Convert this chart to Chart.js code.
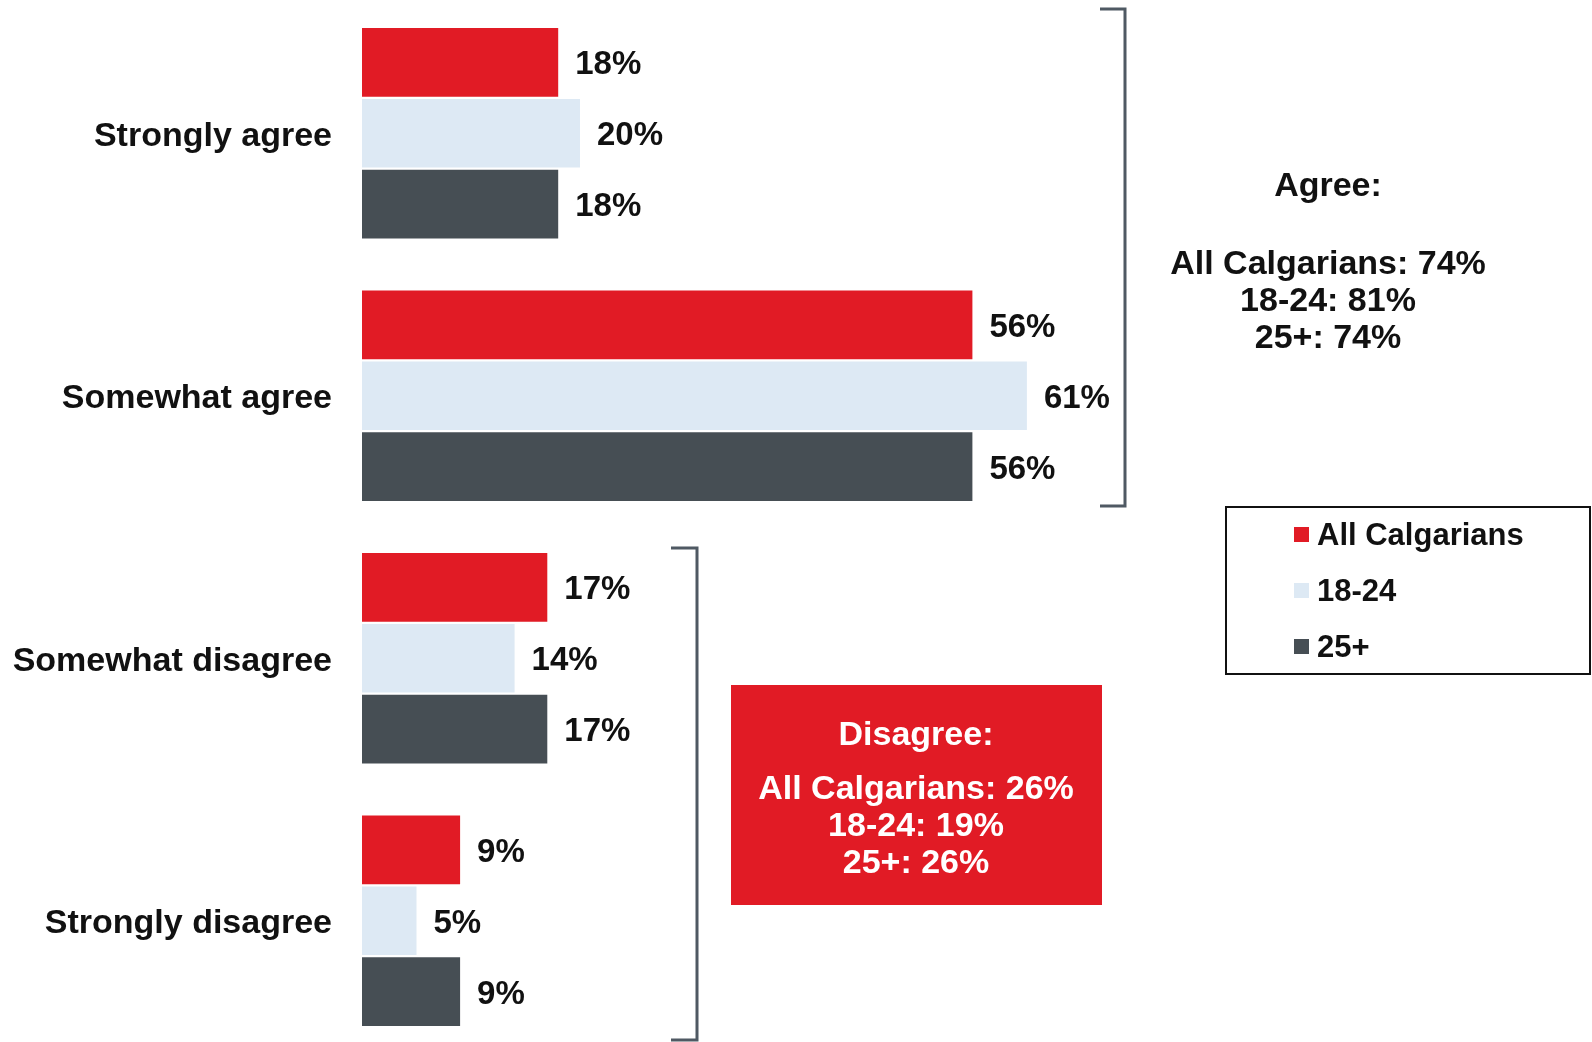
<!DOCTYPE html>
<html>
<head>
<meta charset="utf-8">
<script src="https://cdn.jsdelivr.net/npm/chart.js@4/dist/chart.umd.min.js"></script>
<style>
  html, body { margin: 0; padding: 0; background: #ffffff; overflow: hidden; }
  #wrap { position: relative; width: 1592px; height: 1052px; }
</style>
</head>
<body>
<div id="wrap"><canvas id="chart" width="1592" height="1052"></canvas></div>
<script>
// Response categories
const categories = ['Strongly agree', 'Somewhat agree', 'Somewhat disagree', 'Strongly disagree'];

// Series names
const seriesNames = ['All Calgarians', '18-24', '25+'];

// Percent of respondents per category
const allCalgarians = [18, 56, 17, 9];
const age18to24 = [20, 61, 14, 5];
const age25plus = [18, 56, 17, 9];

// Net totals: [All Calgarians, 18-24, 25+]
const agreeTotals = [74, 81, 74];
const disagreeTotals = [26, 19, 26];

const RED = '#e11b25';
const LIGHT = '#dde9f4';
const DARK = '#464e54';
const FONT = '"Liberation Sans", Arial, Helvetica, sans-serif';

// Value labels at the end of every bar
const valueLabels = {
  id: 'valueLabels',
  afterDatasetsDraw(chart) {
    const ctx = chart.ctx;
    ctx.save();
    ctx.font = 'bold 33px ' + FONT;
    ctx.fillStyle = '#111';
    ctx.textAlign = 'left';
    ctx.textBaseline = 'middle';
    chart.data.datasets.forEach((ds, di) => {
      chart.getDatasetMeta(di).data.forEach((bar, i) => {
        ctx.fillText(ds.data[i] + '%', bar.x + 17, bar.y + 3);
      });
    });
    ctx.restore();
  }
};

// Brackets, net summaries and the boxed legend
const extras = {
  id: 'extras',
  afterDraw(chart) {
    const ctx = chart.ctx;
    ctx.save();

    // brackets
    ctx.strokeStyle = '#4f5963';
    ctx.lineWidth = 3;
    ctx.lineJoin = 'miter';
    ctx.beginPath();
    ctx.moveTo(1100, 9); ctx.lineTo(1125, 9); ctx.lineTo(1125, 506); ctx.lineTo(1100, 506);
    ctx.stroke();
    ctx.beginPath();
    ctx.moveTo(671, 548); ctx.lineTo(697, 548); ctx.lineTo(697, 1040); ctx.lineTo(671, 1040);
    ctx.stroke();

    // agree summary
    ctx.font = 'bold 34px ' + FONT;
    ctx.textAlign = 'center';
    ctx.textBaseline = 'middle';
    ctx.fillStyle = '#111';
    ctx.fillText('Agree:', 1328, 187);
    ctx.fillText(seriesNames[0] + ': ' + agreeTotals[0] + '%', 1328, 265);
    ctx.fillText(seriesNames[1] + ': ' + agreeTotals[1] + '%', 1328, 302);
    ctx.fillText(seriesNames[2] + ': ' + agreeTotals[2] + '%', 1328, 339);

    // disagree summary box
    ctx.fillStyle = RED;
    ctx.fillRect(731, 685, 371, 220);
    ctx.fillStyle = '#ffffff';
    ctx.fillText('Disagree:', 916, 736);
    ctx.fillText(seriesNames[0] + ': ' + disagreeTotals[0] + '%', 916, 790);
    ctx.fillText(seriesNames[1] + ': ' + disagreeTotals[1] + '%', 916, 827);
    ctx.fillText(seriesNames[2] + ': ' + disagreeTotals[2] + '%', 916, 864);

    // legend box
    ctx.strokeStyle = '#111';
    ctx.lineWidth = 2;
    ctx.strokeRect(1226, 507, 364, 167);
    ctx.font = 'bold 31px ' + FONT;
    ctx.textAlign = 'left';
    const rows = [535, 591, 647];
    chart.data.datasets.forEach((ds, i) => {
      ctx.fillStyle = ds.backgroundColor;
      ctx.fillRect(1294, rows[i] - 8, 15, 15);
      ctx.fillStyle = '#111';
      ctx.fillText(ds.label, 1317, rows[i] + 1);
    });

    ctx.restore();
  }
};

new Chart(document.getElementById('chart'), {
  type: 'bar',
  data: {
    labels: categories,
    datasets: [
      { label: seriesNames[0], data: allCalgarians, backgroundColor: RED },
      { label: seriesNames[1], data: age18to24, backgroundColor: LIGHT },
      { label: seriesNames[2], data: age25plus, backgroundColor: DARK }
    ]
  },
  options: {
    indexAxis: 'y',
    responsive: false,
    animation: false,
    events: [],
    layout: { padding: { top: 2, bottom: 0, left: 0, right: 140 } },
    datasets: { bar: { barPercentage: 0.97, categoryPercentage: 0.81 } },
    scales: {
      x: { display: false, min: 0, max: 100 },
      y: {
        grid: { display: false, drawTicks: false },
        border: { display: false },
        afterFit(scale) {
          scale.width = 362;
          scale.paddingTop = 0;
          scale.paddingBottom = 0;
        },
        ticks: {
          color: '#111',
          padding: 30,
          labelOffset: 3,
          font: { family: FONT, size: 34, weight: 'bold' }
        }
      }
    },
    plugins: {
      legend: { display: false },
      tooltip: { enabled: false }
    }
  },
  plugins: [valueLabels, extras]
});
</script>
</body>
</html>
